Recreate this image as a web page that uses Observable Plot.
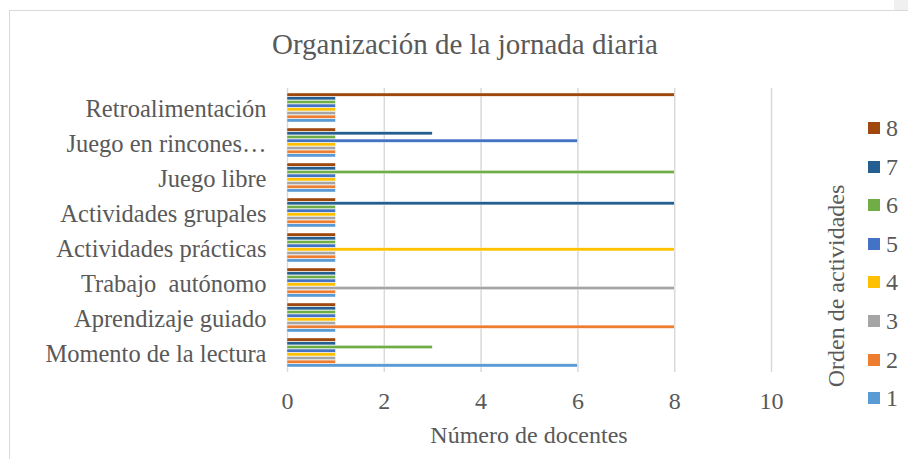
<!DOCTYPE html>
<html>
<head>
<meta charset="utf-8">
<script src="https://cdn.jsdelivr.net/npm/d3@7"></script>
<script src="https://cdn.jsdelivr.net/npm/@observablehq/plot@0.6"></script>
<style>
  body { margin: 0; background: #fff; }
  #wrap { position: relative; width: 908px; height: 459px; overflow: hidden; background: #fff;
          font-family: "Liberation Serif", "Times New Roman", serif; color: #595959; }
  #frame { position: absolute; left: 9px; top: 10px; width: 1000px; height: 1000px;
           border-left: 1px solid #d9d9d9; border-top: 1px solid #d9d9d9; }
  #corner { position: absolute; left: 894px; top: 0; width: 14px; height: 10px; background: #f0f0f0; }
  #title { position: absolute; left: 0; width: 930px; top: 27px; text-align: center; font-size: 29px; line-height: 34px; }
  #xlabel { position: absolute; left: 287px; width: 484px; top: 421px; text-align: center; font-size: 24px; line-height: 28px; }
  #legtitle { position: absolute; left: 836px; top: 286px; font-size: 24px; white-space: nowrap;
              transform: translate(-50%, -50%) rotate(-90deg); }
  .leg { position: absolute; left: 868px; font-size: 24px; line-height: 24px; height: 24px; display: flex; align-items: center; }
  .leg span.sw { display: inline-block; width: 12px; height: 12px; margin-right: 6px; }
  svg text { white-space: pre; }
  #plot { position: absolute; left: 0; top: 0; }
</style>
</head>
<body>
<div id="wrap">
  <div id="frame"></div>
  <div id="corner"></div>
  <div id="title"></div>
  <div id="plot"></div>
  <div id="xlabel"></div>
  <div id="legtitle"></div>
</div>
<script>
const titulo = "Organización de la jornada diaria";
const tituloX = "Número de docentes";
const tituloLeyenda = "Orden de actividades";
const categorias = ["Momento de la lectura", "Aprendizaje guiado", "Trabajo  autónomo", "Actividades prácticas",
                    "Actividades grupales", "Juego libre", "Juego en rincones…", "Retroalimentación"];
const series = ["1", "2", "3", "4", "5", "6", "7", "8"];
const colores = ["#5B9BD5", "#ED7D31", "#A5A5A5", "#FFC000", "#4472C4", "#70AD47", "#255E91", "#9E480E"];
const s1 = [6, 1, 1, 1, 1, 1, 1, 1];
const s2 = [1, 8, 1, 1, 1, 1, 1, 1];
const s3 = [1, 1, 8, 1, 1, 1, 1, 1];
const s4 = [1, 1, 1, 8, 1, 1, 1, 1];
const s5 = [1, 1, 1, 1, 1, 1, 6, 1];
const s6 = [3, 1, 1, 1, 1, 8, 1, 1];
const s7 = [1, 1, 1, 1, 8, 1, 3, 1];
const s8 = [1, 1, 1, 1, 1, 1, 1, 8];
const xTicks = [0, 2, 4, 6, 8, 10];

const valores = [s1, s2, s3, s4, s5, s6, s7, s8];

document.getElementById("title").textContent = titulo;
document.getElementById("xlabel").textContent = tituloX;
document.getElementById("legtitle").textContent = tituloLeyenda;

const wrap = document.getElementById("wrap");
series.slice().reverse().forEach((s, k) => {
  const d = document.createElement("div");
  d.className = "leg";
  d.style.top = (116 + k * 38.6) + "px";
  const sw = document.createElement("span");
  sw.className = "sw";
  sw.style.background = colores[series.indexOf(s)];
  d.appendChild(sw);
  d.appendChild(document.createTextNode(s));
  wrap.appendChild(d);
});

const W = 908, H = 459, mT = 88, mB = 87, mL = 287, mR = 137;
const pIn = 0.17, pOut = 0.085;
const n = categorias.length;
const step = (H - mT - mB) / (n - pIn + 2 * pOut);
const bw = step * (1 - pIn);
const sub = bw / series.length;

const barMarks = series.map((s, i) => {
  const rows = categorias.map((c, j) => ({cat: c, serie: s, valor: valores[i][j]}));
  return Plot.barX(rows, {
    x: "valor", y: "cat", fill: "serie", stroke: "white", strokeWidth: 0.4,
    insetTop: (series.length - 1 - i) * sub, insetBottom: i * sub
  });
});

const chart = Plot.plot({
  width: W,
  height: H,
  marginTop: mT,
  marginBottom: mB,
  marginLeft: mL,
  marginRight: mR,
  style: {fontFamily: "'Liberation Serif', 'Times New Roman', serif", color: "#595959", background: "transparent"},
  x: {domain: [0, 10], label: null},
  y: {domain: categorias.slice().reverse(), paddingInner: pIn, paddingOuter: pOut, label: null},
  color: {domain: series, range: colores},
  marks: [
    Plot.ruleX(xTicks, {x: d => d, stroke: "#d9d9d9", strokeWidth: 1.5}),
    ...barMarks,
    Plot.axisX({ticks: xTicks, tickSize: 0, tickPadding: 19, fontSize: 24, label: null, tickFormat: d => String(d)}),
    Plot.axisY({tickSize: 0, tickPadding: 21, fontSize: 24.5, label: null, dy: 1})
  ]
});
document.getElementById("plot").appendChild(chart);
</script>
</body>
</html>
